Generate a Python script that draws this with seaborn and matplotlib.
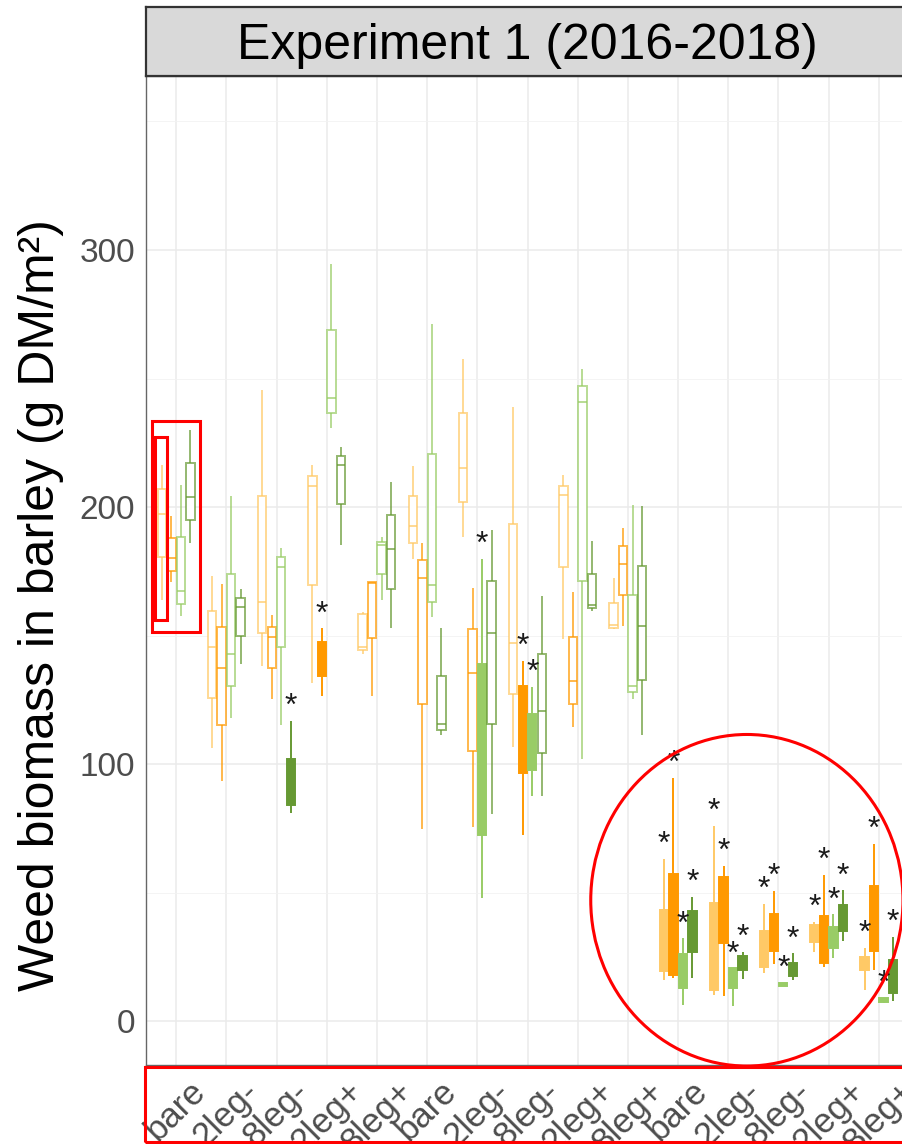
import numpy as np
import pandas as pd
import seaborn as sns
import matplotlib.pyplot as plt
from matplotlib.patches import Rectangle, Ellipse

# ---- data (g DM/m2) ----
x_labels = ["bare", "2leg-", "8leg-", "2leg+", "8leg+",
            "bare", "2leg-", "8leg-", "2leg+", "8leg+",
            "bare", "2leg-", "8leg-", "2leg+", "8leg+"]
series = ["a", "b", "c", "d"]
colors = {"a": "#FFC966", "b": "#FF9900", "c": "#99CC66", "d": "#669933"}

# light orange
a_lo = [163.9, 106.1, 138.3, 131.6, 143.0, 179.6, 188.2, 106.7, 148.8, 152.5, 15.8, 10.3, 18.7, 26.8, 12.2]
a_q1 = [180.5, 125.7, 150.9, 169.8, 144.5, 186.0, 201.9, 127.1, 176.6, 152.8, 19.3, 12.2, 21.2, 30.9, 20.0]
a_md = [197.3, 145.7, 163.2, 208.1, 145.5, 192.6, 215.3, 147.2, 204.5, 154.0, 31.0, 29.0, 28.0, 34.0, 22.5]
a_q3 = [206.9, 159.5, 204.4, 212.1, 158.5, 204.2, 236.5, 193.3, 208.3, 162.5, 43.1, 45.9, 35.1, 37.3, 25.0]
a_hi = [216.5, 173.1, 245.7, 216.5, 159.0, 215.8, 257.4, 239.1, 212.6, 172.2, 63.1, 75.9, 45.7, 38.6, 28.6]
a_sig = [0, 0, 0, 0, 0, 0, 0, 0, 0, 0, 1, 1, 1, 1, 1]

# orange
b_lo = [171.0, 93.5, 125.4, 126.6, 126.6, 74.7, 75.4, 72.5, 114.4, 153.9, 16.7, 9.7, 22.1, 21.0, 20.0]
b_q1 = [175.3, 115.3, 137.2, 134.3, 149.0, 123.5, 105.2, 96.6, 123.5, 165.8, 18.0, 30.2, 27.3, 22.5, 27.4]
b_md = [180.2, 137.2, 149.4, 141.0, 170.4, 172.2, 135.4, 113.0, 132.3, 177.7, 37.0, 43.0, 34.0, 31.0, 40.0]
b_q3 = [187.9, 153.5, 153.5, 147.6, 170.9, 179.2, 152.4, 130.5, 149.6, 184.8, 57.3, 56.0, 41.6, 40.8, 52.4]
b_hi = [196.5, 169.9, 158.0, 152.8, 171.0, 186.0, 168.5, 140.2, 167.0, 191.8, 94.6, 60.5, 50.6, 56.9, 68.9]
b_sig = [0, 0, 0, 1, 0, 0, 0, 1, 0, 0, 1, 1, 1, 1, 1]

# light green
c_lo = [157.7, 118.0, 115.3, 230.6, 163.9, 157.3, 47.9, 87.6, 101.8, 125.3, 6.4, 6.0, 13.5, 24.5, 7.1]
c_q1 = [162.4, 130.3, 145.4, 236.6, 173.9, 163.2, 72.5, 97.8, 171.4, 128.0, 12.9, 12.9, 13.5, 28.3, 7.3]
c_md = [167.2, 142.9, 176.5, 242.5, 185.4, 169.5, 105.0, 108.0, 240.9, 130.5, 19.0, 16.0, 14.0, 32.0, 8.0]
c_q3 = [188.2, 173.9, 180.5, 268.7, 186.5, 220.5, 139.0, 119.3, 247.0, 165.8, 26.0, 20.6, 14.8, 36.7, 8.8]
c_hi = [208.7, 204.4, 183.9, 294.7, 188.4, 271.1, 179.9, 130.1, 253.7, 200.7, 32.2, 20.6, 14.8, 41.6, 9.0]
c_sig = [0, 0, 0, 0, 0, 0, 1, 1, 0, 0, 1, 1, 1, 1, 1]

# dark green
d_lo = [185.9, 139.0, 80.9, 185.4, 152.8, 111.2, 80.7, 87.6, 159.5, 111.2, 16.7, 16.5, 16.1, 31.1, 7.7]
d_q1 = [194.8, 149.8, 83.9, 201.0, 168.0, 113.4, 115.6, 104.2, 160.6, 132.7, 27.0, 20.0, 17.4, 35.1, 10.9]
d_md = [203.9, 161.0, 92.0, 216.5, 183.6, 115.6, 150.9, 120.5, 161.8, 153.9, 35.0, 23.0, 20.0, 40.0, 17.0]
d_q3 = [217.3, 164.7, 102.0, 219.9, 196.7, 134.2, 171.1, 142.9, 174.1, 177.1, 43.0, 25.5, 22.5, 45.0, 23.6]
d_hi = [229.9, 168.1, 116.8, 223.4, 209.7, 153.1, 191.1, 165.5, 186.6, 200.4, 48.3, 27.0, 26.4, 50.8, 32.8]
d_sig = [0, 0, 1, 0, 0, 0, 0, 0, 0, 0, 1, 1, 1, 1, 1]

stats = {
    "a": (a_lo, a_q1, a_md, a_q3, a_hi, a_sig),
    "b": (b_lo, b_q1, b_md, b_q3, b_hi, b_sig),
    "c": (c_lo, c_q1, c_md, c_q3, c_hi, c_sig),
    "d": (d_lo, d_q1, d_md, d_q3, d_hi, d_sig),
}

# five values per box -> quartiles/median hit exactly, whiskers at min/max
cat_keys = [f"{i:02d}_{lab}" for i, lab in enumerate(x_labels)]
rows = []
for s in series:
    lo, q1, md, q3, hi, sig = stats[s]
    for i, key in enumerate(cat_keys):
        for v in (lo[i], q1[i], md[i], q3[i], hi[i]):
            rows.append({"cat": key, "series": s, "biomass": v, "sig": sig[i]})
df = pd.DataFrame(rows)

# ---- style ----
sns.set_style("whitegrid")
plt.rcParams["font.family"] = ["Liberation Sans", "DejaVu Sans"]

W, H = 902, 1144
fig = plt.figure(figsize=(W / 100, H / 100), dpi=100)
ax = fig.add_axes([146 / W, 1 - 1065 / H, 763 / W, (1065 - 76) / H])

width = 0.76
white = {s: "white" for s in series}
for s in series:
    for flag in (0, 1):
        sub = df[(df["series"] == s) & (df["sig"] == flag)]
        if sub.empty:
            continue
        if flag:
            # significant: solid box, no visible median
            pal, lc = {k: colors[k] for k in series}, colors[s]
        else:
            r, g, b, _ = plt.matplotlib.colors.to_rgba(colors[s])
            pal, lc = white, (r, g, b, 0.7)
        sns.boxplot(data=sub, x="cat", y="biomass", hue="series",
                    order=cat_keys, hue_order=series, palette=pal,
                    saturation=1, linecolor=lc, linewidth=1.4,
                    width=width, gap=0.12, dodge=True, whis=(0, 100),
                    showfliers=False, showcaps=False, legend=False, ax=ax)

# significance stars above whiskers
step = width / len(series)
for j, s in enumerate(series):
    lo, q1, md, q3, hi, sig = stats[s]
    for i in range(len(cat_keys)):
        if sig[i]:
            ax.annotate("*", (i + (j - 1.5) * step, hi[i]), xytext=(0, -1),
                        textcoords="offset points", ha="center", va="bottom",
                        fontsize=23, color="#1A1A1A")

# axes cosmetics (ggplot-like)
ax.set_xlim(-0.6, 14.6)
ax.set_ylim(-17.1, 367.7)
ax.set_yticks([0, 100, 200, 300])
ax.set_yticks([50, 150, 250, 350], minor=True)
ax.set_xticks(range(len(cat_keys)))
ax.set_xticklabels(x_labels, rotation=45, ha="center", va="top")
ax.tick_params(axis="both", labelsize=24, labelcolor="#4D4D4D", color="#333333",
               length=5, width=1, direction="out")
ax.tick_params(axis="x", labelsize=25)
ax.tick_params(axis="y", which="minor", length=0)
ax.tick_params(axis="y", pad=3)
ax.tick_params(axis="x", pad=2)
ax.grid(True, which="major", color="#EBEBEB", linewidth=1.1)
ax.grid(True, which="minor", axis="y", color="#F2F2F2", linewidth=0.6)
ax.set_axisbelow(True)
for sp in ax.spines.values():
    sp.set_color("#666666")
    sp.set_linewidth(1.0)
ax.set_xlabel("")
ax.set_ylabel("")
fig.text(41 / W, 1 - 605 / H, "Weed biomass in barley (g DM/m²)", rotation=90,
         ha="center", va="center", fontsize=36, color="black")

# facet strip
strip = fig.add_axes([146 / W, 1 - 76 / H, 763 / W, 69 / H])
strip.set_facecolor("#D9D9D9")
strip.set_xticks([])
strip.set_yticks([])
for sp in strip.spines.values():
    sp.set_color("#333333")
    sp.set_linewidth(1.6)
strip.text(0.5, 0.44, "Experiment 1 (2016-2018)", transform=strip.transAxes,
           ha="center", va="center", fontsize=36, color="black")

# red highlight marks
ax.add_patch(Rectangle((-0.48, 151.4), 0.96, 82.1, fill=False, ec="red", lw=2.2, zorder=10))
ax.add_patch(Rectangle((-0.42, 156.0), 0.24, 71.2, fill=False, ec="red", lw=2.2, zorder=10))
ax.add_patch(Ellipse((11.37, 47.0), 6.22, 129.0, fill=False, ec="red", lw=2.2,
                     zorder=10, clip_on=False))
fig.add_artist(Rectangle((145 / W, 2 / H), 760 / W, 75 / H, fill=False, ec="red",
                         lw=2.2, transform=fig.transFigure))

fig.savefig("out.png", dpi=100)
